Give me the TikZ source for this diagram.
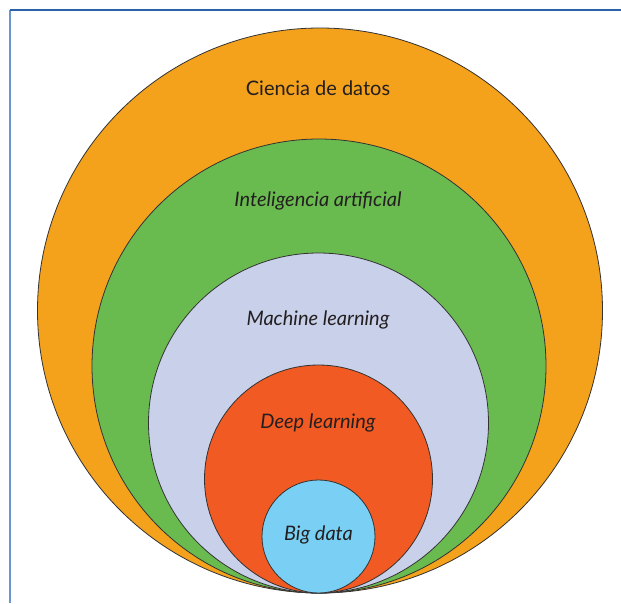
\documentclass[tikz,border=0pt]{standalone}
\usepackage{fontspec}
\setmainfont{Lato}
\definecolor{cOrange}{HTML}{F4A11C}
\definecolor{cGreen}{HTML}{6ABB4F}
\definecolor{cLav}{HTML}{C9D0E9}
\definecolor{cRed}{HTML}{F15A22}
\definecolor{cBlue}{HTML}{7AD0F4}
\definecolor{cText}{HTML}{231F20}
\definecolor{cFrameTop}{HTML}{2A62A8}
\definecolor{cFrameLeft}{HTML}{6A96CC}
\begin{document}
\begin{tikzpicture}[x=1pt,y=-1pt,
  ring/.style={circle, draw=black!80, line width=0.8pt, inner sep=0pt},
  lbl/.style={text=cText, font=\fontsize{20}{23}\selectfont, inner sep=0pt},
  ilbl/.style={lbl, font=\fontsize{20}{23}\selectfont\itshape}]
\useasboundingbox (0,0) rectangle (621,603);
\fill[white] (0,0) rectangle (621,603);
% frame
\coordinate (fc) at (9.5,9.5);
\coordinate (fb) at (9.5,603);
\coordinate (fr) at (621,9.5);
\draw[cFrameLeft, line width=2pt] (fc) -- (fb);
\draw[cFrameTop, line width=2pt] (fc) -- (fr);
% circles
\node[ring, fill=cOrange, minimum size=565pt] (ds) at (320,310.5) {};
\node[ring, fill=cGreen, minimum size=454pt] (ia) at (319,366) {};
\node[ring, fill=cLav, minimum size=340pt] (ml) at (318.5,423) {};
\node[ring, fill=cRed, minimum size=228pt] (dl) at (318.5,479) {};
\node[ring, fill=cBlue, minimum size=113pt] (bd) at (318.5,536.5) {};
% labels
\node[lbl] (dsl) at (318,88) {Ciencia de datos};
\node[ilbl] (ial) at (318,201) {Inteligencia artificial};
\node[ilbl] (mll) at (318,320) {Machine learning};
\node[ilbl] (dll) at (318,423) {Deep learning};
\node[ilbl] (bdl) at (318.5,535) {Big data};
\end{tikzpicture}
\end{document}
